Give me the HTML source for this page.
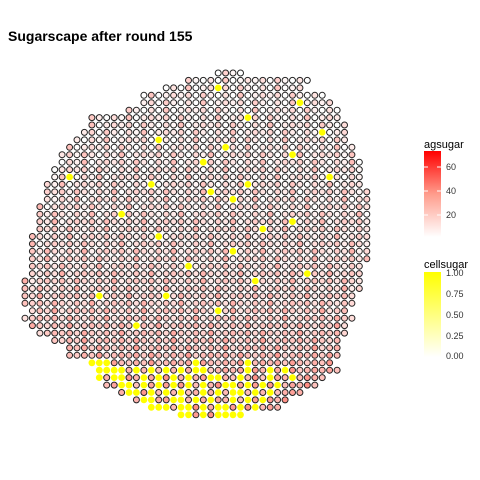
<!DOCTYPE html>
<html><head><meta charset="utf-8">
<style>
body{margin:0;background:#fff;}
svg{display:block;font-family:"Liberation Sans",Arial,sans-serif;}
</style></head>
<body>
<svg id="chart" width="480" height="480" viewBox="0 0 480 480">
<text x="8" y="41" font-size="14" font-weight="bold" fill="#000">Sugarscape after round 155</text>
<g id="cells"></g>
<defs>
<linearGradient id="gRed" x1="0" y1="1" x2="0" y2="0"><stop offset="0" stop-color="#fff"/><stop offset="0.5" stop-color="#ff9c8c"/><stop offset="1" stop-color="#ff0000"/></linearGradient>
<linearGradient id="gYel" x1="0" y1="1" x2="0" y2="0"><stop offset="0" stop-color="#fff"/><stop offset="1" stop-color="#ffff00"/></linearGradient>
</defs>
<g>
<text x="424" y="148" font-size="11" fill="#000">agsugar</text>
<rect x="424" y="151" width="17" height="86" fill="url(#gRed)"/>
<g stroke="#fff" stroke-width="1"><line x1="424" y1="167" x2="428" y2="167"/><line x1="437" y1="167" x2="441" y2="167"/><line x1="424" y1="191" x2="428" y2="191"/><line x1="437" y1="191" x2="441" y2="191"/><line x1="424" y1="215" x2="428" y2="215"/><line x1="437" y1="215" x2="441" y2="215"/></g>
<g font-size="9" fill="#333"><text x="446" y="170">60</text><text x="446" y="194">40</text><text x="446" y="218">20</text></g>
</g>
<g>
<text x="424" y="268" font-size="11" fill="#000">cellsugar</text>
<rect x="424" y="272" width="17" height="85" fill="url(#gYel)"/>
<g font-size="9" fill="#333"><text x="446" y="276">1.00</text><text x="446" y="297">0.75</text><text x="446" y="318">0.50</text><text x="446" y="339">0.25</text><text x="446" y="359">0.00</text></g>
</g>
</svg>
<script>
const rowStart=[26,22,19,16,16,14,9,9,8,7,6,5,5,4,4,3,3,3,2,2,2,2,1,1,1,1,1,1,0,0,0,0,1,0,1,2,4,6,6,9,10,10,11,13,15,17,21];
const rowEnd=[29,38,37,40,41,42,42,43,43,43,44,44,45,45,45,45,46,46,46,46,46,46,46,46,46,46,45,45,45,45,44,44,43,44,43,43,42,42,42,41,42,40,39,37,35,34,29];
const rowSugar=[1,1,2,2,2,2,3,3,3,3,3,4,4,4,4,4,5,5,5,5,6,6,6,6,7,7,7,8,8,8,9,9,10,10,11,11,12,13,14,15,16,17,18,18,19,19,19];
const variation=[0,5,-3,8,0,-4,3,-2,10,-5,0,4];
const yellowCells=[[39,9],[39,10],[39,11],[39,23],[39,30],
[40,10],[40,11],[40,12],[40,13],[40,15],[40,17],[40,19],[40,21],[40,23],[40,24],[40,30],[40,33],[40,35],
[41,10],[41,12],[41,13],[41,16],[41,18],[41,20],[41,22],[41,25],[41,26],[41,29],[41,33],[41,36],
[42,13],[42,14],[42,16],[42,18],[42,20],[42,22],[42,24],[42,27],[42,28],[42,30],[42,32],[42,34],
[43,14],[43,15],[43,17],[43,19],[43,21],[43,24],[43,26],[43,28],[43,29],[43,31],[43,33],
[44,16],[44,17],[44,20],[44,21],[44,23],[44,25],[44,28],[44,30],[44,32],
[45,17],[45,18],[45,19],[45,21],[45,22],[45,24],[45,26],[45,27],[45,29],[45,31],
[46,21],[46,22],[46,24],[46,26],[46,27],[46,28],[46,29],
[2,26],[4,37],[6,30],[8,40],[9,18],[10,27],[11,36],[12,24],[14,6],[14,41],[15,17],[15,30],[16,25],[17,28],[19,13],[20,36],[21,32],[22,18],[24,28],[26,22],[27,38],[28,31],[30,10],[30,19],[32,26],[34,15]];
const xScale=c=>25+c*7.43;
const yScale=r=>73+r*7.43;
const NS="http://www.w3.org/2000/svg";
const g=document.getElementById('cells');
const ySet=new Set(yellowCells.map(p=>p[0]+','+p[1]));
function agColor(v){const t=Math.max(0,Math.min(1,v/70));const gb=Math.round(255-255*Math.pow(t,0.8)*1.0);const gg=Math.round(255-235*Math.pow(t,0.8));return `rgb(255,${Math.max(0,Math.min(255,gg))},${Math.max(0,Math.min(255,gb))})`;}
for(let r=0;r<rowStart.length;r++){
  for(let c=rowStart[r];c<=rowEnd[r];c++){
    const el=document.createElementNS(NS,'circle');
    el.setAttribute('cx',xScale(c).toFixed(1));
    el.setAttribute('cy',yScale(r).toFixed(1));
    if(ySet.has(r+','+c)){
      el.setAttribute('r','3.4');
      el.setAttribute('fill','#ffff00');
      
    }else{
      const v=rowSugar[r]+variation[(r*5+c)%variation.length];
      el.setAttribute('r','3');
      el.setAttribute('fill',agColor(v));
      el.setAttribute('stroke','#222');
      el.setAttribute('stroke-width','1');
      
    }
    
    g.appendChild(el);
  }
}
</script>
</body></html>
